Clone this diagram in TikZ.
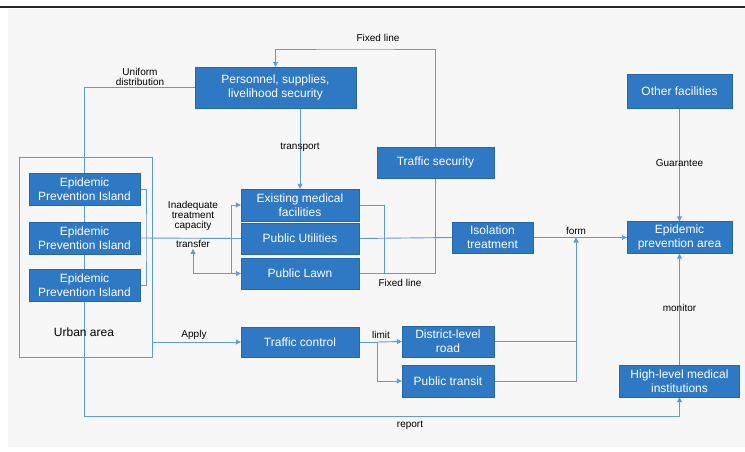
\documentclass[tikz,border=0pt]{standalone}
\usepackage{fontspec}
\setmainfont{Liberation Sans}
\usetikzlibrary{arrows.meta}
\definecolor{boxblue}{RGB}{46,120,196}
\definecolor{lineblue}{RGB}{95,155,215}
\definecolor{paper}{RGB}{247,247,247}
\pgfdeclarelayer{back}
\pgfdeclarelayer{wires}
\pgfsetlayers{back,wires,main}

\begin{document}
\begin{tikzpicture}[x=1pt, y=-1pt,
    box/.style={fill=boxblue, draw=boxblue!85!black, line width=0.4pt, text=white,
      align=center, inner sep=0pt, font=\fontsize{12}{14}\selectfont},
    lbl/.style={align=center, inner sep=1pt, font=\fontsize{10}{10}\selectfont},
    link/.style={draw=lineblue, line width=0.9pt},
    tip/.style={-{Triangle[length=5pt,width=5pt]}}]
  \useasboundingbox (0,0) rectangle (745,452);
  \begin{pgfonlayer}{back}
    \fill[paper] (8,9) rectangle (745,447);
    \draw[line width=1.5pt, black!85] (0,7) -- (745,7);
  \end{pgfonlayer}

  % boxes
  \node[box, minimum width=161, minimum height=41] (pers) at (275.5,87.5) {Personnel, supplies,\\livelihood security};
  \node[box, minimum width=105, minimum height=34] (other) at (679.5,91) {Other facilities};
  \node[box, minimum width=117, minimum height=31] (tsec) at (435.5,162.5) {Traffic security};

  \node[draw=lineblue, line width=0.9pt, minimum width=133, minimum height=200] (urban) at (85.5,257) {};
  \node[font=\fontsize{12}{14}\selectfont] (urbanlbl) at (84,332) {Urban area};
  \node[box, minimum width=111, minimum height=32] (isl1) at (84.5,189) {Epidemic\\Prevention Island};
  \node[box, minimum width=111, minimum height=32] (isl2) at (84.5,238) {Epidemic\\Prevention Island};
  \node[box, minimum width=111, minimum height=32] (isl3) at (84.5,285) {Epidemic\\Prevention Island};

  \node[box, minimum width=118, minimum height=32] (emf) at (300,205) {Existing medical\\facilities};
  \node[box, minimum width=118, minimum height=31] (pu) at (300,238.5) {Public Utilities};
  \node[box, minimum width=118, minimum height=31] (lawn) at (300,273.5) {Public Lawn};
  \node[box, minimum width=81, minimum height=31] (iso) at (492.5,237.5) {Isolation\\treatment};
  \node[box, minimum width=105, minimum height=32] (epa) at (679.5,237.5) {Epidemic\\prevention area};

  \node[box, minimum width=118, minimum height=30] (tctl) at (300,342) {Traffic control};
  \node[box, minimum width=92, minimum height=31] (road) at (448,341.5) {District-level\\road};
  \node[box, minimum width=92, minimum height=32] (transit) at (448,381) {Public transit};
  \node[box, minimum width=120, minimum height=32] (high) at (679.5,381) {High-level medical\\institutions};

  % labels
  \node[lbl] (fixtoplbl) at (378,38) {Fixed line};
  \node[lbl] (unilbl) at (140,77) {Uniform\\distribution};
  \node[lbl] (translbl) at (300,147) {transport};
  \node[lbl] (inadlbl) at (193,216) {Inadequate\\treatment\\capacity};
  \node[lbl] (trflbl) at (193,244) {transfer};
  \node[lbl] (fixlbl) at (400,283) {Fixed line};
  \node[lbl] (guarlbl) at (679.5,163) {Guarantee};
  \node[lbl] (formlbl) at (576,231) {form};
  \node[lbl] (monlbl) at (679.5,308) {monitor};
  \node[lbl] (applbl) at (194,335) {Apply};
  \node[lbl] (limlbl) at (381,335) {limit};
  \node[lbl] (replbl) at (410,425) {report};

  \coordinate (fixtop) at (355,49);
  \coordinate (rep) at (84,416);
  \coordinate (brk) at (146,238);
  \coordinate (br) at (231,238);
  \coordinate (fixjoin) at (384,273.5);
  \coordinate (formjoin) at (576,237.5);
  \coordinate (lim) at (377,342);

  \begin{pgfonlayer}{wires}
    \draw[link, tip] (tsec.north) |- (fixtop) -| (pers.north);
    \draw[link, tip] (pers.west) -| (rep) -| (high.south);
    \draw[link, tip] (pers.south -| emf.north) -- (emf.north);
    \draw[link] (isl1.east) -| (brk) |- (isl3.east);
    \draw[link] (isl2.east) -- (pu.west);
    \draw[link, tip] (br) |- (emf.west);
    \draw[link, tip] (br) |- (lawn.west);
    \draw[link, tip] (lawn.west -| br) -| (trflbl.south);
    \draw[link] (emf.east) -| (fixjoin);
    \draw[link] (lawn.east) -| (tsec.south);
    \draw[link] (pu.east) -- (iso.west);
    \draw[link, tip] (iso.east) -- (epa.west);
    \draw[link, tip] (other.south) -- (epa.north);
    \draw[link, tip] (high.north) -- (epa.south);
    \draw[link, tip] (urban.east |- tctl.west) -- (tctl.west);
    \draw[link] (tctl.east) -- (lim);
    \draw[link, tip] (lim) -- (road.west);
    \draw[link, tip] (lim) |- (transit.west);
    \draw[link] (road.east) -- (road.east -| formjoin);
    \draw[link, tip] (transit.east) -| (formjoin);
  \end{pgfonlayer}
\end{tikzpicture}
\end{document}
